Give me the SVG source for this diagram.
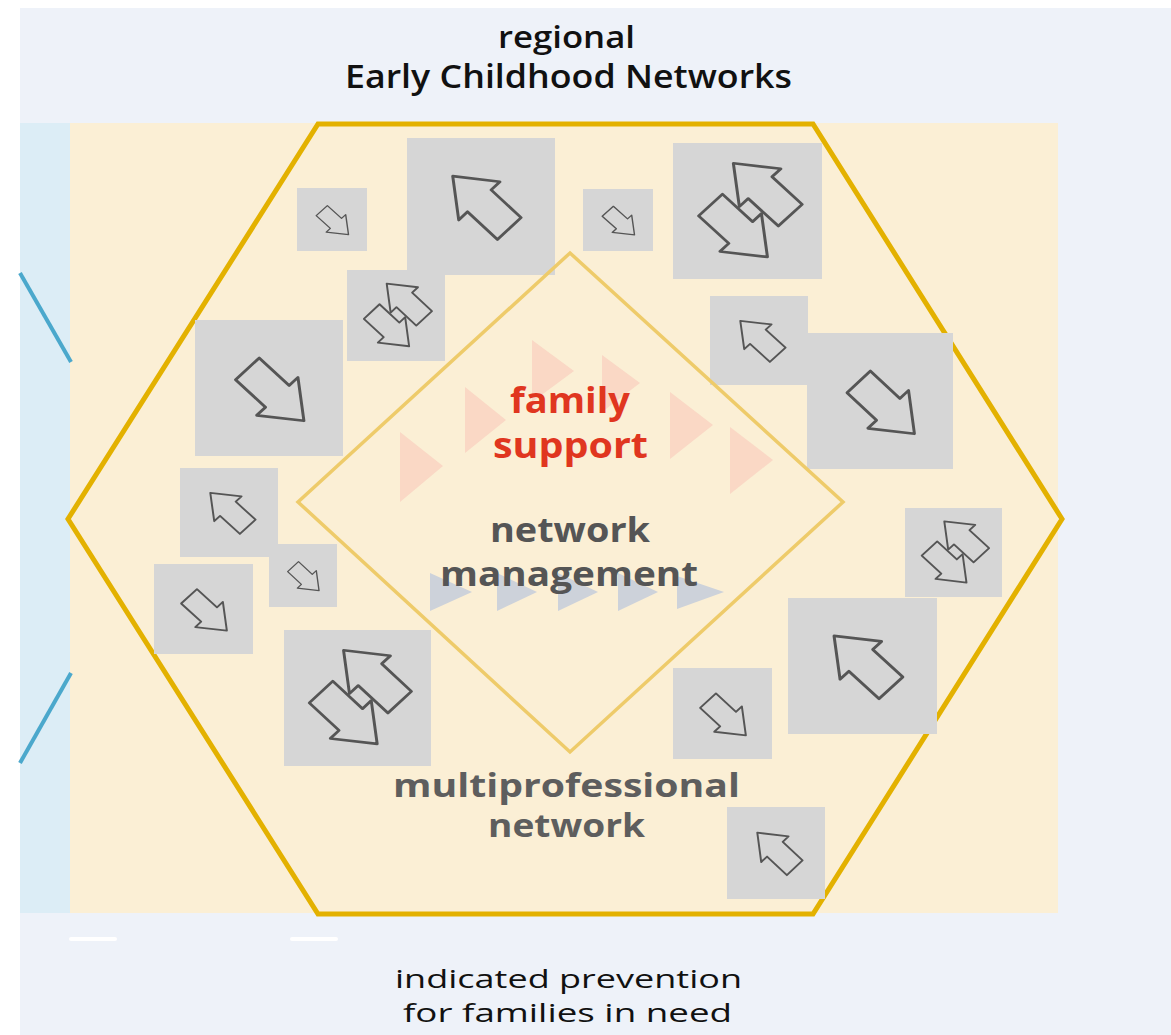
<svg xmlns="http://www.w3.org/2000/svg" width="1171" height="1035" viewBox="0 0 1171 1035">
<style>
.tile{fill:#D6D6D6}
.arr{fill:none;stroke:#555555;stroke-width:2;stroke-linejoin:round;vector-effect:non-scaling-stroke}
.pink{fill:#F9D3C2;opacity:0.85}
.gtri{fill:#CDD2DA}
.t{font-family:"Open Sans","Liberation Sans",sans-serif;text-anchor:middle}
.title{font-weight:600;fill:#111111}
.red{font-weight:700;fill:#E0361F}
.grey{font-weight:700;fill:#555555}
.grey2{font-weight:700;fill:#5E5E5E}
.foot{font-weight:400;fill:#111111}
</style>
<defs>
<path id="a" d="M-27,-11.3 H1.6 V-19.7 L27,0 L1.6,19.7 V11.3 H-27 Z"/>
</defs>
<rect x="0" y="0" width="1171" height="1035" fill="#FFFFFF"/>
<rect x="20" y="8" width="1151" height="1027" fill="#EEF2F9"/>
<g id="panels">
<rect x="20" y="123" width="50" height="790" fill="#DCEDF6"/>
<rect x="70" y="123" width="988" height="790" fill="#FBEFD5"/>
<rect x="69" y="937" width="48" height="4" rx="2" fill="#FFFFFF"/>
<rect x="290" y="937" width="48" height="4" rx="2" fill="#FFFFFF"/>
</g>
<g id="connectors" fill="none" stroke="#4BA8CC" stroke-width="4">
<line x1="20" y1="273" x2="71" y2="362"/>
<line x1="71" y1="673" x2="20" y2="763"/>
</g>
<g id="flow-triangles">
<polygon class="pink" points="400,432 400,502 443,466"/>
<polygon class="pink" points="465,387 465,453 506,420"/>
<polygon class="pink" points="532,340 532,402 574,371"/>
<polygon class="pink" points="602,355 602,412 640,383"/>
<polygon class="pink" points="670,392 670,459 713,425"/>
<polygon class="pink" points="730,427 730,494 773,460"/>
<polygon class="gtri" points="430,573 430,611 472,592"/>
<polygon class="gtri" points="497,573 497,611 537,592"/>
<polygon class="gtri" points="558,573 558,611 598,592"/>
<polygon class="gtri" points="618,573 618,611 658,592"/>
<polygon class="gtri" points="677,576 677,609 724,592"/>
</g>
<g id="hexagon">
<polygon points="318,124 813,124 1062,519 813,914 318,914 68,519" fill="none" stroke="#E3B100" stroke-width="5" stroke-linejoin="miter"/>
</g>
<g id="tiles">
<g id="tile-1" transform="translate(332,219.5) scale(0.70,0.63)"><rect class="tile" x="-50" y="-50" width="100" height="100"/><use href="#a" class="arr" transform="translate(4.5,5) rotate(45)"/></g>
<g id="tile-2" transform="translate(481,206.5) scale(1.48,1.37)"><rect class="tile" x="-50" y="-50" width="100" height="100"/><use href="#a" class="arr" transform="translate(0,-3) rotate(-135)"/></g>
<g id="tile-3" transform="translate(396,315.5) scale(0.98,0.91)"><rect class="tile" x="-50" y="-50" width="100" height="100"/><use href="#a" class="arr" transform="translate(9.6,-16) rotate(-135)"/><use href="#a" class="arr" transform="translate(-5.7,14.7) rotate(45)"/></g>
<g id="tile-4" transform="translate(618,220) scale(0.70,0.62)"><rect class="tile" x="-50" y="-50" width="100" height="100"/><use href="#a" class="arr" transform="translate(4.5,5) rotate(45)"/></g>
<g id="tile-5" transform="translate(747.5,211) scale(1.49,1.36)"><rect class="tile" x="-50" y="-50" width="100" height="100"/><use href="#a" class="arr" transform="translate(9.6,-16) rotate(-135)"/><use href="#a" class="arr" transform="translate(-5.7,14.7) rotate(45)"/></g>
<g id="tile-6" transform="translate(759,340.5) scale(0.98,0.89)"><rect class="tile" x="-50" y="-50" width="100" height="100"/><use href="#a" class="arr" transform="translate(0,-3) rotate(-135)"/></g>
<g id="tile-7" transform="translate(880,401) scale(1.46,1.36)"><rect class="tile" x="-50" y="-50" width="100" height="100"/><use href="#a" class="arr" transform="translate(4.5,5) rotate(45)"/></g>
<g id="tile-8" transform="translate(269,388) scale(1.48,1.36)"><rect class="tile" x="-50" y="-50" width="100" height="100"/><use href="#a" class="arr" transform="translate(4.5,5) rotate(45)"/></g>
<g id="tile-9" transform="translate(229,512.5) scale(0.98,0.89)"><rect class="tile" x="-50" y="-50" width="100" height="100"/><use href="#a" class="arr" transform="translate(0,-3) rotate(-135)"/></g>
<g id="tile-10" transform="translate(303,575.5) scale(0.68,0.63)"><rect class="tile" x="-50" y="-50" width="100" height="100"/><use href="#a" class="arr" transform="translate(4.5,5) rotate(45)"/></g>
<g id="tile-11" transform="translate(203.5,609) scale(0.99,0.90)"><rect class="tile" x="-50" y="-50" width="100" height="100"/><use href="#a" class="arr" transform="translate(4.5,5) rotate(45)"/></g>
<g id="tile-12" transform="translate(357.5,698) scale(1.47,1.36)"><rect class="tile" x="-50" y="-50" width="100" height="100"/><use href="#a" class="arr" transform="translate(9.6,-16) rotate(-135)"/><use href="#a" class="arr" transform="translate(-5.7,14.7) rotate(45)"/></g>
<g id="tile-13" transform="translate(953.5,552.5) scale(0.97,0.89)"><rect class="tile" x="-50" y="-50" width="100" height="100"/><use href="#a" class="arr" transform="translate(9.6,-16) rotate(-135)"/><use href="#a" class="arr" transform="translate(-5.7,14.7) rotate(45)"/></g>
<g id="tile-14" transform="translate(862.5,666) scale(1.49,1.36)"><rect class="tile" x="-50" y="-50" width="100" height="100"/><use href="#a" class="arr" transform="translate(0,-3) rotate(-135)"/></g>
<g id="tile-15" transform="translate(722.5,713.5) scale(0.99,0.91)"><rect class="tile" x="-50" y="-50" width="100" height="100"/><use href="#a" class="arr" transform="translate(4.5,5) rotate(45)"/></g>
<g id="tile-16" transform="translate(776,853) scale(0.98,0.92)"><rect class="tile" x="-50" y="-50" width="100" height="100"/><use href="#a" class="arr" transform="translate(0,-3) rotate(-135)"/></g>
</g>
<g id="diamond">
<polygon points="570,253 843,502 570,752 298,502" fill="none" stroke="#EECB6A" stroke-width="3.5"/>
</g>
<g id="texts">
<text class="t title" x="566.5" y="48" font-size="30" textLength="137" lengthAdjust="spacingAndGlyphs">regional</text>
<text class="t title" x="568.5" y="88" font-size="33" textLength="447" lengthAdjust="spacingAndGlyphs">Early Childhood Networks</text>
<text class="t red" x="570" y="413" font-size="35" textLength="120" lengthAdjust="spacingAndGlyphs">family</text>
<text class="t red" x="570.5" y="458" font-size="35" textLength="155" lengthAdjust="spacingAndGlyphs">support</text>
<text class="t grey" x="570" y="542" font-size="34" textLength="160" lengthAdjust="spacingAndGlyphs">network</text>
<text class="t grey" x="569" y="586" font-size="34" textLength="258" lengthAdjust="spacingAndGlyphs">management</text>
<text class="t grey2" x="566.5" y="797" font-size="32" textLength="347" lengthAdjust="spacingAndGlyphs">multiprofessional</text>
<text class="t grey2" x="566.5" y="837" font-size="32" textLength="157" lengthAdjust="spacingAndGlyphs">network</text>
<text class="t foot" x="568.5" y="988" font-size="26" textLength="347" lengthAdjust="spacingAndGlyphs">indicated prevention</text>
<text class="t foot" x="567.5" y="1022" font-size="26" textLength="329" lengthAdjust="spacingAndGlyphs">for families in need</text>
</g>
</svg>
